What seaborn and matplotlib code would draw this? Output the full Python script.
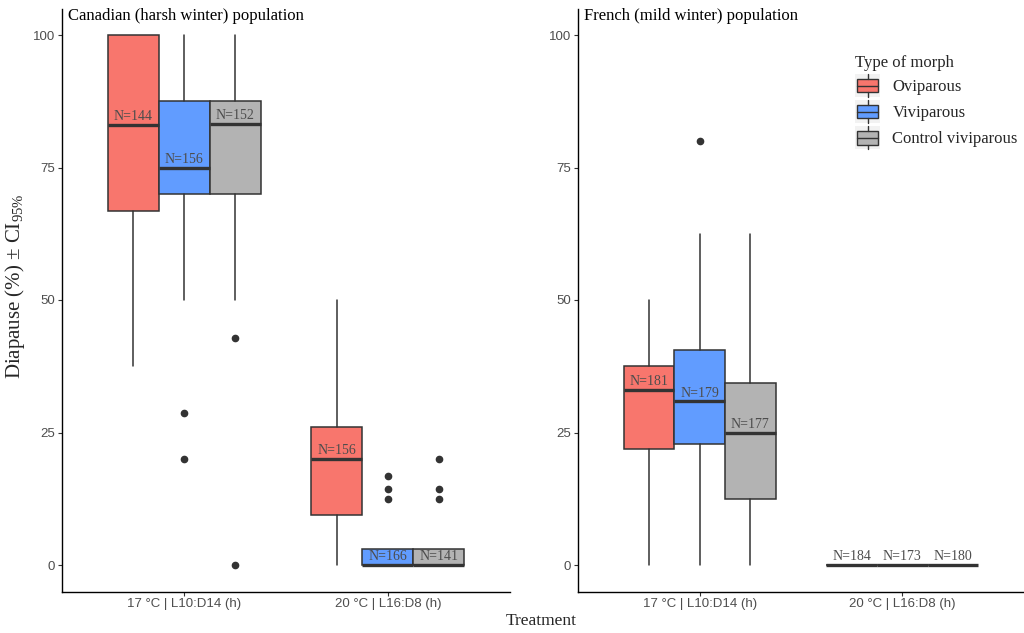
import matplotlib.pyplot as plt
import seaborn as sns
from matplotlib.legend_handler import HandlerBase
from matplotlib.patches import Rectangle
from matplotlib.lines import Line2D

# Data (diapause %, box-plot summaries)
treatments = ["17 °C | L10:D14 (h)", "20 °C | L16:D8 (h)"]
morphs = ["Oviparous", "Viviparous", "Control viviparous"]
morph_colors = ["#F8766D", "#619CFF", "#B3B3B3"]

# Canadian (harsh winter) population: [treatment][morph]
can_lo = [[37.5, 50.0, 50.0], [0.0, 0.0, 0.0]]
can_q1 = [[66.7, 70.0, 70.0], [9.4, 0.0, 0.0]]
can_med = [[83.0, 75.0, 83.3], [20.0, 0.0, 0.0]]
can_q3 = [[100.0, 87.5, 87.5], [26.0, 3.1, 3.1]]
can_hi = [[100.0, 100.0, 100.0], [50.0, 3.1, 3.1]]
can_out = [[[], [28.6, 20.0], [42.9, 0.0]], [[], [16.7, 14.3, 12.5], [20.0, 14.3, 12.5]]]
can_n = [[144, 156, 152], [156, 166, 141]]

# French (mild winter) population
fr_lo = [[0.0, 0.0, 0.0], [0.0, 0.0, 0.0]]
fr_q1 = [[21.9, 22.9, 12.5], [0.0, 0.0, 0.0]]
fr_med = [[33.0, 30.9, 25.0], [0.0, 0.0, 0.0]]
fr_q3 = [[37.5, 40.6, 34.4], [0.0, 0.0, 0.0]]
fr_hi = [[50.0, 62.5, 62.5], [0.0, 0.0, 0.0]]
fr_out = [[[], [80.0], []], [[], [], []]]
fr_n = [[181, 179, 177], [184, 173, 180]]

yticks = [0, 25, 50, 75, 100]

sns.set_theme(style="ticks")
plt.rcParams["font.family"] = ["Liberation Serif", "DejaVu Serif"]
plt.rcParams["mathtext.fontset"] = "custom"
plt.rcParams["mathtext.rm"] = "Liberation Serif"
plt.rcParams["mathtext.it"] = "Liberation Serif:italic"

EDGE = "#333333"
TXT = "#4D4D4D"


def draw_panel(ax, lo, q1, med, q3, hi, out, ns, title):
    width = 0.25
    for i in range(len(treatments)):
        for j in range(len(morphs)):
            pos = i + (j - 1) * width
            stats = [dict(whislo=lo[i][j], q1=q1[i][j], med=med[i][j], q3=q3[i][j],
                          whishi=hi[i][j], fliers=out[i][j])]
            ax.bxp(stats, positions=[pos], widths=width, patch_artist=True,
                   showcaps=False, manage_ticks=False,
                   boxprops=dict(facecolor=morph_colors[j], edgecolor=EDGE, linewidth=1.1),
                   medianprops=dict(color=EDGE, linewidth=2.4, solid_capstyle="butt"),
                   whiskerprops=dict(color=EDGE, linewidth=1.1),
                   flierprops=dict(marker="o", markerfacecolor=EDGE, markeredgecolor=EDGE,
                                   markersize=4.5))
            ax.annotate(f"N={ns[i][j]}", (pos, med[i][j]), xytext=(0, 1.2),
                        textcoords="offset points", ha="center", va="bottom",
                        fontsize=10, color=TXT)
    ax.set_xlim(-0.6, 1.6)
    ax.set_ylim(-5, 105)
    ax.set_xticks(range(len(treatments)))
    ax.set_xticklabels(treatments, family="Liberation Sans", fontsize=9.5, color=TXT)
    ax.set_yticks(yticks)
    ax.set_yticklabels(yticks, family="Liberation Sans", fontsize=9.5, color=TXT)
    ax.tick_params(length=3, width=0.8, color=EDGE, pad=2)
    ax.grid(False)
    sns.despine(ax=ax)
    for s in ["left", "bottom"]:
        ax.spines[s].set_color("black")
        ax.spines[s].set_linewidth(1.0)
    ax.text(0.013, 1.0, title, transform=ax.transAxes, ha="left", va="top",
            fontsize=12, color="black")


class BoxKey(HandlerBase):
    def create_artists(self, legend, orig_handle, xdescent, ydescent, width, height,
                       fontsize, trans):
        x0, y0 = -xdescent, -ydescent
        fc = orig_handle.get_facecolor()
        m = 1.5
        bg = Rectangle((x0, y0), width, height, facecolor="#F2F2F2", edgecolor="none",
                       transform=trans)
        box = Rectangle((x0 + m, y0 + 0.2 * height), width - 2 * m, 0.6 * height,
                        facecolor=fc, edgecolor=EDGE, linewidth=1.0, transform=trans)
        xc = x0 + width / 2
        med = Line2D([x0 + m, x0 + width - m], [y0 + height / 2] * 2, color=EDGE,
                     linewidth=1.0, transform=trans)
        w1 = Line2D([xc, xc], [y0, y0 + 0.2 * height], color=EDGE, linewidth=1.0,
                    transform=trans)
        w2 = Line2D([xc, xc], [y0 + 0.8 * height, y0 + height], color=EDGE, linewidth=1.0,
                    transform=trans)
        return [bg, box, med, w1, w2]


fig = plt.figure(figsize=(10.24, 6.33), dpi=100)
ax1 = fig.add_axes([62 / 1024, 1 - 591.5 / 633, 448 / 1024, 583 / 633])
ax2 = fig.add_axes([578 / 1024, 1 - 591.5 / 633, 446 / 1024, 583 / 633])

draw_panel(ax1, can_lo, can_q1, can_med, can_q3, can_hi, can_out, can_n,
           "Canadian (harsh winter) population")
draw_panel(ax2, fr_lo, fr_q1, fr_med, fr_q3, fr_hi, fr_out, fr_n,
           "French (mild winter) population")

fig.text(541 / 1024, 1 - 621 / 633, "Treatment", ha="center", va="center", fontsize=12.5)
fig.text(15 / 1024, 1 - 286 / 633, r"Diapause (%) ± CI$_{\mathrm{95\%}}$", ha="center",
         va="center", rotation=90, fontsize=15)

handles = [Rectangle((0, 0), 1, 1, facecolor=c) for c in morph_colors]
leg = fig.legend(handles, morphs, title="Type of morph", loc="upper left",
                 bbox_to_anchor=(855 / 1024, 1 - 55 / 633), frameon=False,
                 handler_map={Rectangle: BoxKey()}, fontsize=12, title_fontsize=12,
                 handlelength=1.5, handleheight=1.75, handletextpad=0.75,
                 labelspacing=0.18, borderpad=0, borderaxespad=0, alignment="left")

fig.savefig("out.png", dpi=100)
